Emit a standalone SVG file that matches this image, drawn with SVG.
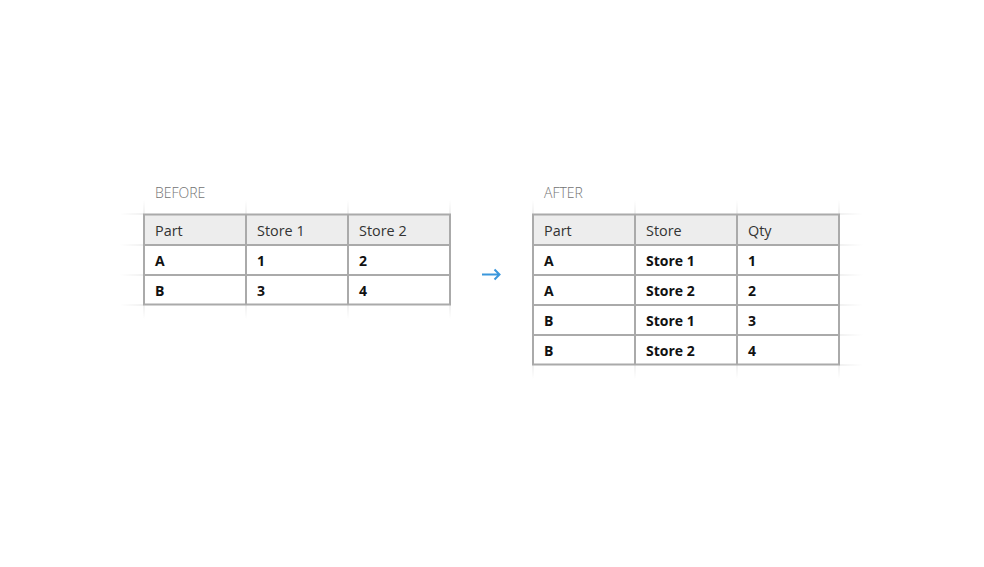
<svg xmlns="http://www.w3.org/2000/svg" width="984" height="567" viewBox="0 0 984 567">
<style>
.bg{fill:#ffffff}
.hdr{fill:#ededed}
.grid{stroke:#aaaaaa;stroke-width:2;fill:none}
.cap{font-family:"Open Sans","Liberation Sans",sans-serif;font-size:14px;fill:#737373;font-weight:300}
.h{font-family:"Open Sans","Liberation Sans",sans-serif;font-size:14.4px;fill:#333333}
.b{font-family:"Open Sans","Liberation Sans",sans-serif;font-size:14px;fill:#111111;font-weight:700}
.arrow{stroke:#3a97dc;stroke-width:2;fill:none}
</style>
<defs>
<linearGradient id="fl" x1="0" y1="0" x2="1" y2="0"><stop offset="0" stop-color="#e2e2e2" stop-opacity="0"/><stop offset="1" stop-color="#e2e2e2"/></linearGradient>
<linearGradient id="fr" x1="0" y1="0" x2="1" y2="0"><stop offset="0" stop-color="#e2e2e2"/><stop offset="1" stop-color="#e2e2e2" stop-opacity="0"/></linearGradient>
<linearGradient id="fu" x1="0" y1="0" x2="0" y2="1"><stop offset="0" stop-color="#e2e2e2" stop-opacity="0"/><stop offset="1" stop-color="#e2e2e2"/></linearGradient>
<linearGradient id="fd" x1="0" y1="0" x2="0" y2="1"><stop offset="0" stop-color="#e2e2e2"/><stop offset="1" stop-color="#e2e2e2" stop-opacity="0"/></linearGradient>
</defs>
<rect class="bg" x="0" y="0" width="984" height="567"/>

<g id="before">
<text class="cap" x="155" y="197.5">BEFORE</text>
<g fill="url(#fl)">
<rect x="120" y="213.5" width="24" height="1"/>
<rect x="120" y="244.5" width="24" height="1"/>
<rect x="120" y="274.5" width="24" height="1"/>
<rect x="120" y="304.5" width="24" height="1"/>
</g>
<g fill="url(#fu)">
<rect x="143.5" y="200" width="1" height="14"/>
<rect x="245.5" y="200" width="1" height="14"/>
<rect x="347.5" y="200" width="1" height="14"/>
<rect x="449.5" y="200" width="1" height="14"/>
</g>
<g fill="url(#fd)">
<rect x="143.5" y="305" width="1" height="14"/>
<rect x="245.5" y="305" width="1" height="14"/>
<rect x="347.5" y="305" width="1" height="14"/>
<rect x="449.5" y="305" width="1" height="14"/>
</g>
<rect class="hdr" x="144" y="214.5" width="306" height="30.5"/>
<path class="grid" d="M144 214.5H450V304.5H144Z M144 245H450 M144 275H450 M246 214.5V304.5 M348 214.5V304.5"/>
<text class="h" x="155" y="235.5">Part</text>
<text class="h" x="257" y="235.5">Store 1</text>
<text class="h" x="359" y="235.5">Store 2</text>
<text class="b" x="155" y="265.5">A</text>
<text class="b" x="257" y="265.5">1</text>
<text class="b" x="359" y="265.5">2</text>
<text class="b" x="155" y="295.5">B</text>
<text class="b" x="257" y="295.5">3</text>
<text class="b" x="359" y="295.5">4</text>
</g>

<g id="connectors">
<path class="arrow" d="M482 274.5H499 M494.5 269.5L499.5 274.5L494.5 279.5"/>
</g>

<g id="after">
<text class="cap" x="544" y="197.5">AFTER</text>
<g fill="url(#fr)">
<rect x="839" y="213.5" width="24" height="1"/>
<rect x="839" y="244.5" width="24" height="1"/>
<rect x="839" y="274.5" width="24" height="1"/>
<rect x="839" y="304.5" width="24" height="1"/>
<rect x="839" y="334.5" width="24" height="1"/>
<rect x="839" y="364.5" width="24" height="1"/>
</g>
<g fill="url(#fu)">
<rect x="532.5" y="200" width="1" height="14"/>
<rect x="634.5" y="200" width="1" height="14"/>
<rect x="736.5" y="200" width="1" height="14"/>
<rect x="838.5" y="200" width="1" height="14"/>
</g>
<g fill="url(#fd)">
<rect x="532.5" y="365" width="1" height="14"/>
<rect x="634.5" y="365" width="1" height="14"/>
<rect x="736.5" y="365" width="1" height="14"/>
<rect x="838.5" y="365" width="1" height="14"/>
</g>
<rect class="hdr" x="533" y="214.5" width="306" height="30.5"/>
<path class="grid" d="M533 214.5H839V364.5H533Z M533 245H839 M533 275H839 M533 305H839 M533 335H839 M635 214.5V364.5 M737 214.5V364.5"/>
<text class="h" x="544" y="235.5">Part</text>
<text class="h" x="646" y="235.5">Store</text>
<text class="h" x="748" y="235.5">Qty</text>
<text class="b" x="544" y="265.5">A</text>
<text class="b" x="646" y="265.5">Store 1</text>
<text class="b" x="748" y="265.5">1</text>
<text class="b" x="544" y="295.5">A</text>
<text class="b" x="646" y="295.5">Store 2</text>
<text class="b" x="748" y="295.5">2</text>
<text class="b" x="544" y="325.5">B</text>
<text class="b" x="646" y="325.5">Store 1</text>
<text class="b" x="748" y="325.5">3</text>
<text class="b" x="544" y="355.5">B</text>
<text class="b" x="646" y="355.5">Store 2</text>
<text class="b" x="748" y="355.5">4</text>
</g>
</svg>
